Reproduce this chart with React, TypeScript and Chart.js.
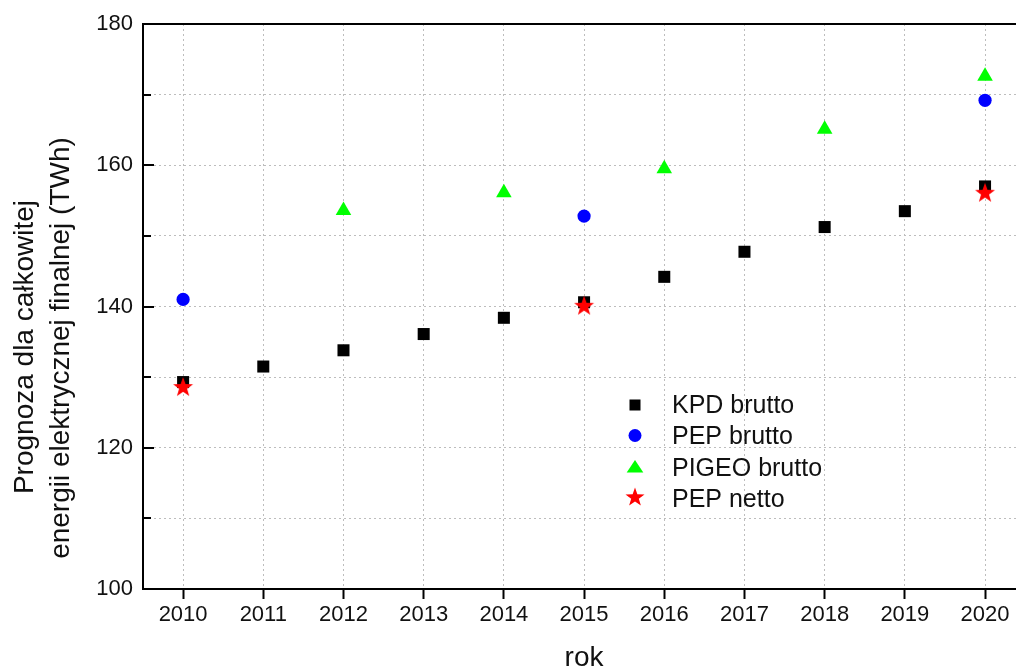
import React, { useEffect, useRef } from 'react';
import { Chart, registerables } from 'chart.js';

Chart.register(...registerables);

const years = [2010, 2011, 2012, 2013, 2014, 2015, 2016, 2017, 2018, 2019, 2020];
const kpdBrutto = [129.3, 131.5, 133.8, 136.1, 138.4, 140.6, 144.2, 147.75, 151.25, 153.5, 157.0];
const pepBruttoYears = [2010, 2015, 2020];
const pepBrutto = [141.0, 152.8, 169.2];
const pigeoYears = [2012, 2014, 2016, 2018, 2020];
const pigeoBrutto = [153.6, 156.1, 159.5, 165.1, 172.6];
const pepNettoYears = [2010, 2015, 2020];
const pepNetto = [128.6, 140.1, 156.1];
const yTicks = [100, 110, 120, 130, 140, 150, 160, 170, 180];
const yLabelStep = 20;
const seriesLabels = ['KPD brutto', 'PEP brutto', 'PIGEO brutto', 'PEP netto'];
const yTitle = ['Prognoza dla całkowitej', 'energii elektrycznej finalnej (TWh)'];
const xTitle = 'rok';

const FONT = "'Liberation Sans', Arial, Helvetica, sans-serif";
const CANVAS_W = 1026;

function drawStar(ctx: CanvasRenderingContext2D, cx: number, cy: number, R: number, r: number) {
  ctx.beginPath();
  for (let i = 0; i < 10; i++) {
    const rad = i % 2 === 0 ? R : r;
    const a = -Math.PI / 2 + (i * Math.PI) / 5;
    const x = cx + rad * Math.cos(a);
    const y = cy + rad * Math.sin(a);
    if (i === 0) ctx.moveTo(x, y);
    else ctx.lineTo(x, y);
  }
  ctx.closePath();
  ctx.fill();
}

function makeStarCanvas() {
  const c = document.createElement('canvas');
  c.width = 22;
  c.height = 22;
  const ctx = c.getContext('2d')!;
  ctx.fillStyle = '#ff0000';
  drawStar(ctx, 11, 11.5, 10.5, 4.2);
  return c;
}

const pairs = (xs: number[], ys: number[]) => xs.map((x, i) => ({ x, y: ys[i] }));

export default function App() {
  const ref = useRef<HTMLCanvasElement | null>(null);

  useEffect(() => {
    if (!ref.current) return;
    const star = makeStarCanvas();

    const decor = {
      id: 'decor',
      afterDraw(chart: any) {
        const ctx = chart.ctx as CanvasRenderingContext2D;
        const { left, right, top } = chart.chartArea;
        const ys = chart.scales.y;
        ctx.save();
        ctx.strokeStyle = '#000';
        ctx.lineWidth = 2;
        ctx.beginPath();
        ctx.moveTo(left - 1, top);
        ctx.lineTo(right + 20, top);
        ctx.stroke();
        yTicks.forEach((v) => {
          if (v === yTicks[0] || v === yTicks[yTicks.length - 1]) return;
          const py = Math.round(ys.getPixelForValue(v));
          const len = v % yLabelStep === 0 ? 11 : 8;
          ctx.beginPath();
          ctx.moveTo(left, py);
          ctx.lineTo(left + len, py);
          ctx.stroke();
        });
        ctx.fillStyle = '#111';
        ctx.font = `28px ${FONT}`;
        ctx.textAlign = 'center';
        ctx.textBaseline = 'alphabetic';
        ctx.fillText(xTitle, 584, 666);
        ctx.save();
        ctx.translate(33, 347);
        ctx.rotate(-Math.PI / 2);
        ctx.fillText(yTitle[0], 0, 0);
        ctx.restore();
        ctx.save();
        ctx.translate(69, 348);
        ctx.rotate(-Math.PI / 2);
        ctx.fillText(yTitle[1], 0, 0);
        ctx.restore();
        const mx = 635;
        const rows = [405, 435.5, 467, 497];
        ctx.fillStyle = '#000';
        ctx.fillRect(mx - 5.5, rows[0] - 5.5, 11, 11);
        ctx.fillStyle = '#0000ff';
        ctx.beginPath();
        ctx.arc(mx, rows[1], 6.5, 0, Math.PI * 2);
        ctx.fill();
        ctx.fillStyle = '#00ff00';
        ctx.beginPath();
        ctx.moveTo(mx, rows[2] - 7);
        ctx.lineTo(mx + 8.3, rows[2] + 5.5);
        ctx.lineTo(mx - 8.3, rows[2] + 5.5);
        ctx.closePath();
        ctx.fill();
        ctx.fillStyle = '#ff0000';
        drawStar(ctx, mx, rows[3] + 0.5, 10, 4);
        ctx.fillStyle = '#111';
        ctx.font = `25px ${FONT}`;
        ctx.textAlign = 'left';
        const baselines = [413, 444, 476, 507];
        seriesLabels.forEach((s, i) => ctx.fillText(s, 672, baselines[i]));
        ctx.restore();
      },
    };

    const gridColor = (c: any) => {
      const v = c.tick?.value;
      if (v === yTicks[0] || v === yTicks[yTicks.length - 1]) return 'rgba(0,0,0,0)';
      return '#bdbdbd';
    };

    const chart = new Chart(ref.current, {
      type: 'scatter',
      data: {
        datasets: [
          {
            label: seriesLabels[0],
            data: pairs(years, kpdBrutto),
            pointStyle: 'rect',
            pointRadius: 8.5,
            backgroundColor: '#000',
            borderColor: '#000',
            borderWidth: 0,
            order: 4,
          },
          {
            label: seriesLabels[1],
            data: pairs(pepBruttoYears, pepBrutto),
            pointStyle: 'circle',
            pointRadius: 6.6,
            backgroundColor: '#0000ff',
            borderColor: '#0000ff',
            borderWidth: 0,
            order: 3,
          },
          {
            label: seriesLabels[2],
            data: pairs(pigeoYears, pigeoBrutto),
            pointStyle: 'triangle',
            pointRadius: 9,
            backgroundColor: '#00ff00',
            borderColor: '#00ff00',
            borderWidth: 0,
            order: 2,
          },
          {
            label: seriesLabels[3],
            data: pairs(pepNettoYears, pepNetto),
            pointStyle: star as any,
            pointRadius: 10,
            backgroundColor: '#ff0000',
            borderColor: '#ff0000',
            borderWidth: 0,
            order: 1,
          },
        ],
      },
      options: {
        animation: false,
        responsive: false,
        devicePixelRatio: 1,
        layout: { padding: { top: 24, right: 0, left: 0, bottom: 0 } },
        plugins: { legend: { display: false }, tooltip: { enabled: false } },
        scales: {
          x: {
            type: 'linear',
            min: 2009.5,
            max: 2020.386,
            afterBuildTicks: (s: any) => {
              s.ticks = years.map((v) => ({ value: v }));
            },
            afterFit: (s: any) => {
              s.height = 81;
            },
            ticks: {
              callback: (v: any) => String(v),
              font: { family: FONT, size: 22 },
              color: '#111',
              padding: 3,
              maxRotation: 0,
              autoSkip: false,
            },
            grid: {
              color: '#bdbdbd',
              lineWidth: 1,
              drawTicks: true,
              tickLength: 10,
              tickColor: '#000',
              tickWidth: 2,
              tickBorderDash: [],
            } as any,
            border: { display: true, color: '#000', width: 2, dash: [2, 3] },
          },
          y: {
            type: 'linear',
            min: 100,
            max: 180,
            afterBuildTicks: (s: any) => {
              s.ticks = yTicks.map((v) => ({ value: v }));
            },
            afterFit: (s: any) => {
              s.width = 143;
            },
            ticks: {
              callback: (v: any) => (Number(v) % yLabelStep === 0 ? String(v) : ''),
              font: { family: FONT, size: 22 },
              color: '#111',
              padding: 10,
              autoSkip: false,
            },
            grid: {
              color: gridColor,
              lineWidth: 1,
              drawTicks: false,
            },
            border: { display: true, color: '#000', width: 2, dash: [2, 3] },
          },
        },
      },
      plugins: [decor],
    } as any);

    return () => chart.destroy();
  }, []);

  return (
    <div style={{ position: 'absolute', left: 0, top: 0, width: 1016, height: 670, overflow: 'hidden', background: '#fff' }}>
      <canvas ref={ref} width={CANVAS_W} height={670} style={{ display: 'block', width: CANVAS_W, height: 670 }} />
    </div>
  );
}
